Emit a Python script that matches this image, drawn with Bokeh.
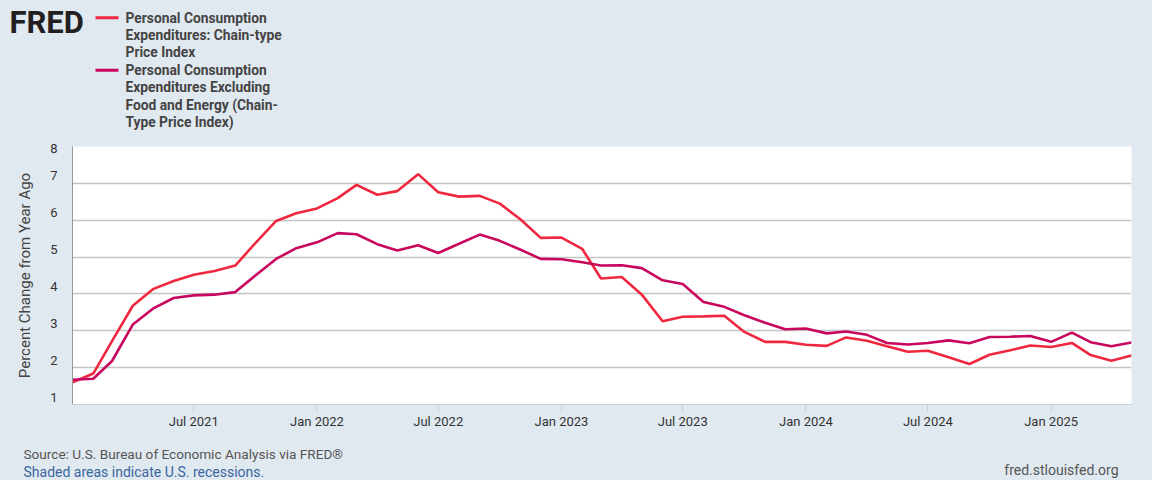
import pandas as pd
from bokeh.plotting import figure
from bokeh.layouts import column
from bokeh.models import FixedTicker, DatetimeTickFormatter, Range1d
from bokeh.core.properties import value
from bokeh.embed import file_html
from bokeh.resources import INLINE

# ---------------- data (monthly, Jan 2021 - May 2025) ----------------
start_month = "2021-01-01"
pce_headline = [
    1.60, 1.84, 2.72, 3.68, 4.13, 4.35, 4.52, 4.62, 4.77, 5.38, 5.98, 6.19,
    6.32, 6.60, 6.96, 6.69, 6.79, 7.25, 6.76, 6.64, 6.66, 6.45, 6.02, 5.52,
    5.53, 5.22, 4.42, 4.46, 3.98, 3.26, 3.38, 3.39, 3.41, 2.97, 2.70, 2.70,
    2.62, 2.59, 2.82, 2.73, 2.58, 2.43, 2.46, 2.28, 2.10, 2.35, 2.47, 2.60,
    2.56, 2.67, 2.34, 2.19, 2.33,
]
pce_core = [
    1.67, 1.70, 2.18, 3.17, 3.60, 3.89, 3.96, 3.98, 4.05, 4.50, 4.95, 5.24,
    5.40, 5.65, 5.62, 5.35, 5.18, 5.32, 5.11, 5.36, 5.61, 5.44, 5.20, 4.95,
    4.94, 4.86, 4.77, 4.78, 4.70, 4.37, 4.27, 3.78, 3.65, 3.42, 3.22, 3.04,
    3.06, 2.93, 2.98, 2.89, 2.67, 2.63, 2.67, 2.74, 2.66, 2.83, 2.84, 2.86,
    2.70, 2.95, 2.69, 2.58, 2.68,
]
series_names = [
    "Personal Consumption\nExpenditures: Chain-type\nPrice Index",
    "Personal Consumption\nExpenditures Excluding\nFood and Energy (Chain-\nType Price Index)",
]
series_colors = ["#f0283f", "#c8065e"]
x_tick_labels = ["Jul 2021", "Jan 2022", "Jul 2022", "Jan 2023",
                 "Jul 2023", "Jan 2024", "Jul 2024", "Jan 2025"]
y_ticks = [1, 2, 3, 4, 5, 6, 7, 8]
y_label = "Percent Change from Year Ago"
logo_text = "FRED"
source_text = "Source: U.S. Bureau of Economic Analysis via FRED®"
shaded_text = "Shaded areas indicate U.S. recessions."
site_text = "fred.stlouisfed.org"

dates = pd.date_range(start_month, periods=len(pce_headline), freq="MS")
tick_dates = pd.to_datetime(x_tick_labels, format="%b %Y")
tick_ms = [d.timestamp() * 1000.0 for d in tick_dates]

W = 1152
BG = "#e1e9f0"
FONT = "Roboto"
HEAD_H, MAIN_H, FOOT_H = 140, 296, 44


def blank_panel(h):
    f = figure(width=W, height=h, output_backend="svg", toolbar_location=None,
               x_range=Range1d(0, W), y_range=Range1d(h, 0),
               x_axis_location=None, y_axis_location=None,
               min_border=0)
    f.background_fill_color = BG
    f.border_fill_color = BG
    f.outline_line_color = None
    f.grid.visible = False
    f.frame_align = False
    return f


# ---------------- header: logo + legend ----------------
head = blank_panel(HEAD_H)
head.text(x=[9], y=[21.5], text=[logo_text], text_font=value(FONT),
          text_font_size="31px", text_font_style="bold", text_color="#231f20",
          text_baseline="middle")

LINE_STEP = 17.2
item_tops = [17.3, 69.7]
for name, color, y0 in zip(series_names, series_colors, item_tops):
    head.segment(x0=[95], y0=[y0], x1=[118], y1=[y0], line_color=color,
                 line_width=3)
    lines = name.split("\n")
    head.text(x=[125] * len(lines),
              y=[y0 + i * LINE_STEP for i in range(len(lines))],
              text=lines, text_font=value(FONT), text_font_size="13.8px",
              text_font_style="bold", text_color="#444444",
              text_baseline="middle")

# ---------------- main chart ----------------
p = figure(width=W, height=MAIN_H, x_axis_type="datetime",
           output_backend="svg", toolbar_location=None,
           x_range=Range1d(dates[0].to_pydatetime(), dates[-1].to_pydatetime()),
           y_range=Range1d(y_ticks[0], y_ticks[-1]),
           min_border_left=72, min_border_right=21,
           min_border_top=6, min_border_bottom=32)
p.frame_align = False
p.background_fill_color = "white"
p.border_fill_color = BG
p.outline_line_color = None

p.xgrid.grid_line_color = None
p.ygrid.grid_line_color = "#c4c4c4"
p.ygrid.grid_line_width = 1.3

xa = p.xaxis[0]
xa.ticker = FixedTicker(ticks=tick_ms)
xa.formatter = DatetimeTickFormatter(months="%b %Y", years="%b %Y", days="%b %Y")
xa.axis_line_color = "#c3cfdc"
xa.major_tick_line_color = "#c3cfdc"
xa.major_tick_out = 7
xa.major_tick_in = 0
xa.minor_tick_line_color = None
xa.major_label_standoff = 2
xa.major_label_text_font = FONT
xa.major_label_text_font_size = "13px"
xa.major_label_text_color = "#333333"

ya = p.yaxis[0]
ya.ticker = FixedTicker(ticks=y_ticks)
ya.axis_line_color = "#999999"
ya.major_tick_line_color = None
ya.major_tick_out = 0
ya.major_tick_in = 0
ya.minor_tick_line_color = None
ya.minor_tick_out = 0
ya.major_label_standoff = 15
ya.major_label_text_font = FONT
ya.major_label_text_font_size = "13px"
ya.major_label_text_color = "#333333"
ya.major_label_text_line_height = 1.0
# FRED sets the tick numbers just above their gridlines
ya.major_label_overrides = {v: "%d\n" % v for v in y_ticks}
ya.axis_label = y_label
ya.axis_label_text_font = FONT
ya.axis_label_text_font_size = "15px"
ya.axis_label_text_font_style = "normal"
ya.axis_label_text_color = "#444444"
ya.axis_label_standoff = 13

p.line(dates, pce_headline, line_color=series_colors[0], line_width=2.6)
p.line(dates, pce_core, line_color=series_colors[1], line_width=2.6)

# ---------------- footer ----------------
foot = blank_panel(FOOT_H)
foot.text(x=[23], y=[17], text=[source_text], text_font=value(FONT),
          text_font_size="13.6px", text_color="#555555", text_baseline="middle")
foot.text(x=[23], y=[35.5], text=[shaded_text], text_font=value(FONT),
          text_font_size="14px", text_color="#3a66a0", text_baseline="middle")
foot.text(x=[1118], y=[33], text=[site_text], text_font=value(FONT),
          text_font_size="14px", text_color="#555555", text_baseline="middle",
          text_align="right")

layout = column(head, p, foot, spacing=0)

html = file_html(layout, INLINE)
html = html.replace("</head>", "<style>body{background:%s;}</style></head>" % BG)
open("out.html", "w").write(html)
